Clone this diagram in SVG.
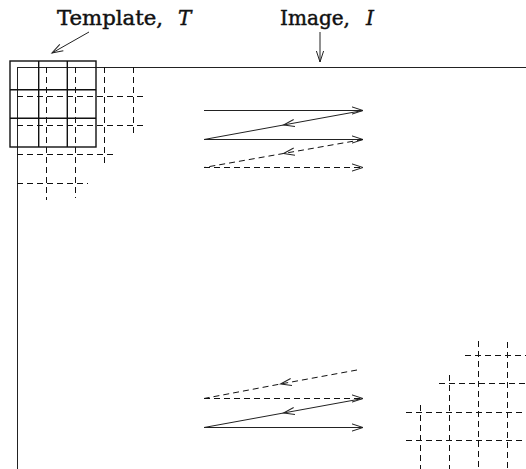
<svg xmlns="http://www.w3.org/2000/svg" width="526" height="469" viewBox="0 0 526 469">
  <style>
    .ln { fill: none; stroke: #222; stroke-width: 1; }
    .box { fill: none; stroke: #111; stroke-width: 1.4; }
    .dash { fill: none; stroke: #111; stroke-width: 1; stroke-dasharray: 6 4; }
    .lbl { font-family: "DejaVu Serif", "Liberation Serif", serif; font-size: 20px; fill: #111; stroke: #111; stroke-width: 0.45; }
    .it { font-style: italic; }
  </style>
  <defs>
    <marker id="head" markerUnits="userSpaceOnUse" markerWidth="14" markerHeight="10" viewBox="-12 -5 14 10" refX="0" refY="0" orient="auto" overflow="visible">
      <path d="M-11,-3.6 L0,0 L-11,3.6" fill="none" stroke="#222" stroke-width="1"/>
    </marker>
  </defs>

  <!-- labels -->
  <g id="label-template">
    <text class="lbl" x="57" y="25" textLength="106" lengthAdjust="spacingAndGlyphs">Template,</text>
    <text class="lbl it" x="178" y="25">T</text>
    <line class="ln" x1="89" y1="32" x2="52" y2="53" marker-end="url(#head)"/>
  </g>
  <g id="label-image">
    <text class="lbl" x="280" y="25" textLength="70" lengthAdjust="spacingAndGlyphs">Image,</text>
    <text class="lbl it" x="366" y="25">I</text>
    <line class="ln" x1="320" y1="32" x2="320" y2="62" marker-end="url(#head)"/>
  </g>

  <!-- image frame -->
  <g id="image">
    <line class="ln" x1="17" y1="67.5" x2="526" y2="67.5"/>
    <line class="ln" x1="17.5" y1="67" x2="17.5" y2="469"/>
  </g>

  <!-- template grid, 3x3 -->
  <g id="template">
    <rect class="box" x="10" y="61" width="86" height="86"/>
    <line class="box" x1="38.7" y1="61" x2="38.7" y2="147"/>
    <line class="box" x1="67.3" y1="61" x2="67.3" y2="147"/>
    <line class="box" x1="10" y1="89.7" x2="96" y2="89.7"/>
    <line class="box" x1="10" y1="118.3" x2="96" y2="118.3"/>
  </g>

  <!-- pixel grid near the top-left corner -->
  <g id="grid-top-left">
    <line class="dash" x1="17" y1="96.5" x2="147" y2="96.5"/>
    <line class="dash" x1="17" y1="125.5" x2="147" y2="125.5"/>
    <line class="dash" x1="17" y1="154.5" x2="113" y2="154.5"/>
    <line class="dash" x1="17" y1="183.5" x2="88" y2="183.5"/>
    <line class="dash" x1="46.5" y1="67" x2="46.5" y2="200"/>
    <line class="dash" x1="75.5" y1="67" x2="75.5" y2="198"/>
    <line class="dash" x1="104.5" y1="67" x2="104.5" y2="163"/>
    <line class="dash" x1="133.5" y1="67" x2="133.5" y2="133"/>
  </g>

  <!-- pixel grid near the bottom-right corner -->
  <g id="grid-bottom-right">
    <line class="dash" x1="465" y1="355.5" x2="526" y2="355.5"/>
    <line class="dash" x1="439" y1="383.5" x2="526" y2="383.5"/>
    <line class="dash" x1="406" y1="412.5" x2="526" y2="412.5"/>
    <line class="dash" x1="406" y1="440.5" x2="526" y2="440.5"/>
    <line class="dash" x1="420.5" y1="405" x2="420.5" y2="469"/>
    <line class="dash" x1="449.5" y1="375" x2="449.5" y2="469"/>
    <line class="dash" x1="478.5" y1="341" x2="478.5" y2="469"/>
    <line class="dash" x1="507.5" y1="342" x2="507.5" y2="469"/>
  </g>

  <!-- raster scan of the template over the image -->
  <g id="connectors">
    <line class="ln" x1="204" y1="110.5" x2="363" y2="110.5" marker-end="url(#head)"/>
    <polyline class="ln" points="363,110.5 283.5,125 204,139.5" marker-mid="url(#head)"/>
    <line class="ln" x1="204" y1="139.5" x2="363" y2="139.5" marker-end="url(#head)"/>
    <polyline class="dash" points="363,139.5 283.5,153.5 204,167.5" marker-mid="url(#head)"/>
    <line class="dash" x1="204" y1="167.5" x2="363" y2="167.5" marker-end="url(#head)"/>

    <polyline class="dash" points="357,370 280.5,384 204,398.5" marker-mid="url(#head)"/>
    <line class="dash" x1="204" y1="398.5" x2="363" y2="398.5" marker-end="url(#head)"/>
    <polyline class="ln" points="363,398.5 283.5,413 204,427.5" marker-mid="url(#head)"/>
    <line class="ln" x1="204" y1="427.5" x2="363" y2="427.5" marker-end="url(#head)"/>
  </g>
</svg>
